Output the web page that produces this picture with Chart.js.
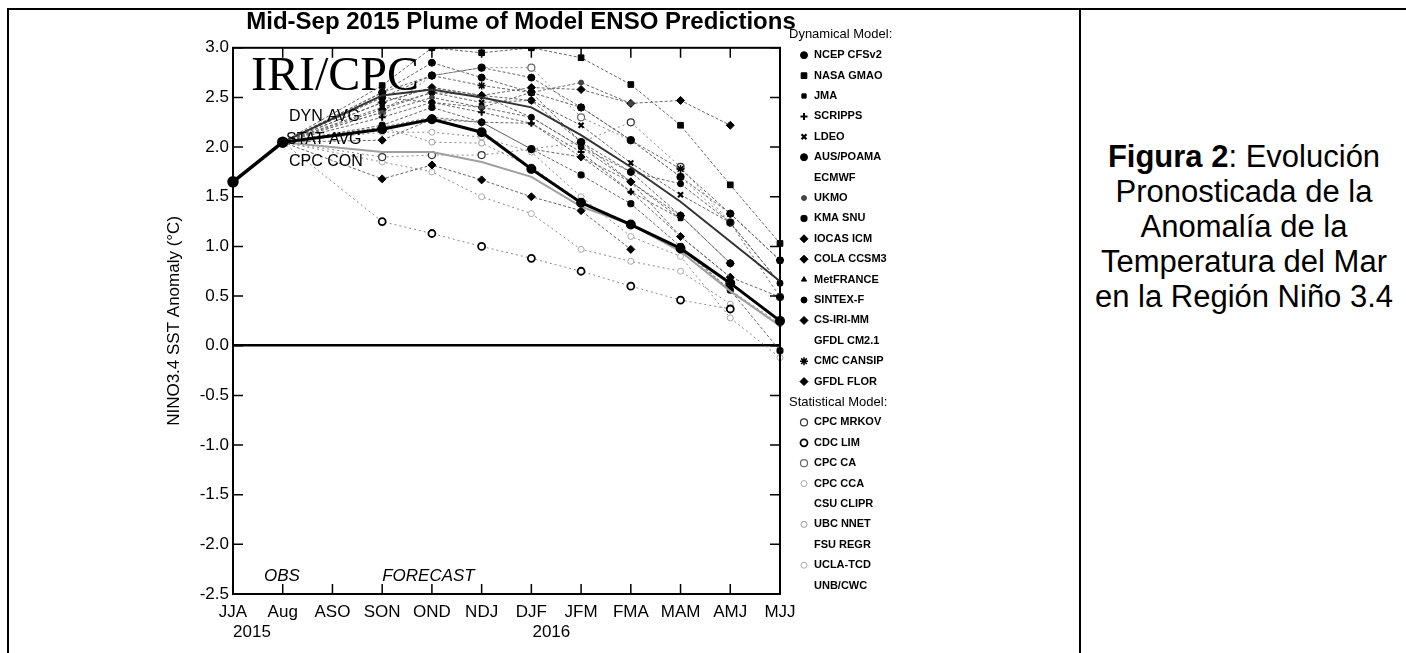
<!DOCTYPE html>
<html>
<head>
<meta charset="utf-8">
<script src="https://cdn.jsdelivr.net/npm/chart.js@4.4.1/dist/chart.umd.min.js"></script>
<style>
html,body{margin:0;padding:0;background:#fff;}
body{width:1406px;height:653px;position:relative;overflow:hidden;font-family:"Liberation Sans",Arial,sans-serif;color:#000;}
#wrap{position:absolute;left:0;top:0;width:1042px;height:653px;}
.fl{position:absolute;background:#000;}
#caption{position:absolute;left:1082px;top:139px;width:324px;text-align:center;font-size:31px;line-height:35px;}
</style>
</head>
<body>
<div class="fl" style="left:7px;top:8px;width:1399px;height:2px;"></div>
<div class="fl" style="left:7px;top:8px;width:2px;height:645px;"></div>
<div class="fl" style="left:1079px;top:8px;width:2px;height:645px;"></div>
<div id="wrap"><canvas id="c"></canvas></div>
<div id="caption"><b>Figura 2</b>: Evolución<br>Pronosticada de la<br>Anomalía de la<br>Temperatura del Mar<br>en la Región Niño 3.4</div>
<script>
// ---- categories / ticks ----
const seasons = ['JJA','Aug','ASO','SON','OND','NDJ','DJF','JFM','FMA','MAM','AMJ','MJJ'];
const yearLabels = ['2015','2016'];
const yTicks = [-2.5,-2.0,-1.5,-1.0,-0.5,0.0,0.5,1.0,1.5,2.0,2.5,3.0];

// ---- observations (JJA, Aug) ----
const obs = [1.65, 2.05];

// ---- forecasts SON..MJJ (9 seasons) ----
const ncepCfsv2 = [2.50, 2.72, 2.80, 2.70, 2.40, 2.07, 1.70, 1.33, 0.86];
const nasaGmao  = [2.62, 3.00, 2.95, 3.00, 2.90, 2.63, 2.22, 1.62, 1.03];
const jma       = [2.45, 2.60, 2.52, 2.30, 2.00, 1.65, 1.28, null, null];
const scripps   = [2.30, 2.45, 2.35, 2.24, 1.95, 1.55, 1.10, 0.69, null];
const ldeo      = [2.40, 2.55, 2.45, 2.47, 2.22, 1.84, 1.52, 1.24, 0.63];
const ausPoama  = [2.55, 2.85, 2.70, 2.55, 2.05, 1.75, 1.31, 0.83, null];
const ecmwf     = [];
const ukmo      = [2.35, 2.50, 2.40, 2.55, 2.65, 2.44, null, null, null];
const kmaSnu    = [2.22, 2.40, 2.25, 1.98, 1.72, 1.43, 1.00, 0.56, -0.05];
const iocasIcm  = [1.68, 1.82, 1.67, 1.50, 1.36, 0.97, null, null, null];
const colaCcsm3 = [2.38, 2.55, 2.52, 2.47, 2.05, 1.65, 1.31, 0.83, null];
const metFrance = [2.20, 2.30, 2.25, 2.24, 1.90, 1.55, 1.28, null, null];
const sintexF   = [2.50, 2.45, 2.40, 2.30, 2.00, 1.75, 1.63, 1.24, 0.63];
const csIriMm   = [2.07, 2.28, 2.25, 1.98, 1.90, 1.65, 1.10, 0.69, 0.49];
const gfdlCm21  = [];
const cmcCansip = [2.55, 2.72, 2.62, 2.55, 2.40, 2.07, 1.78, 1.33, 0.86];
const gfdlFlor  = [2.45, 2.60, 2.52, 2.60, 2.58, 2.44, 2.47, 2.22, null];

const cpcMrkov  = [1.90, 1.92, 1.92, 1.98, 2.05, 2.25, 1.80, 1.24, 0.49];
const cdcLim    = [1.25, 1.13, 1.00, 0.88, 0.75, 0.60, 0.46, 0.37, null];
const cpcCa     = [2.35, 2.72, 2.80, 2.80, 2.30, 2.07, 1.70, 1.24, 0.49];
const cpcCca    = [1.85, 1.75, 1.50, 1.33, 0.97, 0.85, 0.75, 0.42, null];
const csuClipr  = [];
const ubcNnet   = [2.20, 2.05, 2.04, 1.80, 1.45, 1.22, 0.98, 0.56, 0.22];
const fsuRegr   = [];
const uclaTcd   = [2.15, 2.15, 2.10, 1.95, 1.50, 1.10, 0.90, 0.28, -0.12];
const unbCwc    = [];

const dynAvg    = [2.52, 2.58, 2.50, 2.40, 2.12, 1.80, 1.45, 1.05, 0.65];
const statAvg   = [1.95, 1.95, 1.85, 1.70, 1.40, 1.22, 0.95, 0.55, 0.20];
const cpcCon    = [2.18, 2.28, 2.15, 1.78, 1.44, 1.22, 0.98, 0.63, 0.25];

// ---- model list (name, group, values) + marker styles ----
const models = [
  ['NCEP CFSv2','dyn',ncepCfsv2], ['NASA GMAO','dyn',nasaGmao], ['JMA','dyn',jma],
  ['SCRIPPS','dyn',scripps], ['LDEO','dyn',ldeo], ['AUS/POAMA','dyn',ausPoama],
  ['ECMWF','dyn',ecmwf], ['UKMO','dyn',ukmo], ['KMA SNU','dyn',kmaSnu],
  ['IOCAS ICM','dyn',iocasIcm], ['COLA CCSM3','dyn',colaCcsm3], ['MetFRANCE','dyn',metFrance],
  ['SINTEX-F','dyn',sintexF], ['CS-IRI-MM','dyn',csIriMm], ['GFDL CM2.1','dyn',gfdlCm21],
  ['CMC CANSIP','dyn',cmcCansip], ['GFDL FLOR','dyn',gfdlFlor],
  ['CPC MRKOV','stat',cpcMrkov], ['CDC LIM','stat',cdcLim], ['CPC CA','stat',cpcCa],
  ['CPC CCA','stat',cpcCca], ['CSU CLIPR','stat',csuClipr], ['UBC NNET','stat',ubcNnet],
  ['FSU REGR','stat',fsuRegr], ['UCLA-TCD','stat',uclaTcd], ['UNB/CWC','stat',unbCwc]
];
const styles = {
  'NCEP CFSv2':{ps:'circle',r:3.5}, 'NASA GMAO':{ps:'rect',r:4}, 'JMA':{ps:'rect',r:3},
  'SCRIPPS':{ps:'cross',r:3.5,bw:2}, 'LDEO':{ps:'crossRot',r:3.5,bw:2.2}, 'AUS/POAMA':{ps:'circle',r:3.5},
  'UKMO':{ps:'circle',r:2.5,c:'#444'}, 'KMA SNU':{ps:'rectRounded',r:3.5}, 'IOCAS ICM':{ps:'rectRot',r:4},
  'COLA CCSM3':{ps:'rectRot',r:4}, 'MetFRANCE':{ps:'triangle',r:3}, 'SINTEX-F':{ps:'circle',r:3},
  'CS-IRI-MM':{ps:'rectRot',r:4}, 'CMC CANSIP':{ps:'star',r:4,bw:1.5}, 'GFDL FLOR':{ps:'rectRot',r:4},
  'CPC MRKOV':{ps:'circle',r:3.5,open:true,c:'#333',bw:1.2}, 'CDC LIM':{ps:'circle',r:3.5,open:true,c:'#000',bw:1.8},
  'CPC CA':{ps:'circle',r:3.5,open:true,c:'#666',bw:1.2}, 'CPC CCA':{ps:'circle',r:3,open:true,c:'#aaa',bw:1},
  'UBC NNET':{ps:'circle',r:3,open:true,c:'#999',bw:1}, 'UCLA-TCD':{ps:'circle',r:3,open:true,c:'#aaa',bw:1}
};

function series(vals){ return [null, obs[1], null].concat(vals); }

const datasets = [];
models.forEach(([name, group, vals]) => {
  if (!vals.length) return;
  const s = styles[name];
  const col = s.c || '#000';
  datasets.push({
    label: name, group: group, data: series(vals), order: 5,
    spanGaps: true, borderColor: group === 'dyn' ? '#666' : '#888', borderWidth: 1,
    borderDash: group === 'dyn' ? [3,2] : [2,3],
    pointStyle: s.ps, pointRadius: c => c.dataIndex < 3 ? 0 : s.r,
    pointBackgroundColor: s.open ? '#fff' : col, pointBorderColor: col,
    pointBorderWidth: s.bw || 1, fill: false, tension: 0
  });
});
datasets.push({label:'STAT AVG', data: series(statAvg), order: 3, spanGaps:true, borderColor:'#a0a0a0', borderWidth:2, pointRadius:0, fill:false});
datasets.push({label:'DYN AVG', data: series(dynAvg), order: 2, spanGaps:true, borderColor:'#333', borderWidth:2, pointRadius:0, fill:false});
datasets.push({label:'CPC CON', data: series(cpcCon), order: 1, spanGaps:true, borderColor:'#000', borderWidth:3,
  pointRadius: c => c.dataIndex < 3 ? 0 : 3.5, pointBackgroundColor:'#000', pointBorderColor:'#000', fill:false});
datasets.push({label:'OBS', data: obs.slice(), order: 0, borderColor:'#000', borderWidth:3.5,
  pointRadius:4, pointBackgroundColor:'#000', pointBorderColor:'#000', fill:false});

const FONT = '"Liberation Sans", Arial, sans-serif';

const decor = {
  id: 'decor',
  afterDraw(chart) {
    const {ctx, chartArea: a, scales: {x, y}} = chart;
    ctx.save();
    // plot frame
    ctx.strokeStyle = '#000'; ctx.lineWidth = 2;
    ctx.strokeRect(a.left, a.top, a.right - a.left, a.bottom - a.top);
    // inward tick marks on all four sides
    ctx.lineWidth = 1.5; ctx.beginPath();
    x.ticks.forEach((t, i) => {
      const px = x.getPixelForTick(i);
      ctx.moveTo(px, a.bottom); ctx.lineTo(px, a.bottom - 10);
      ctx.moveTo(px, a.top); ctx.lineTo(px, a.top + 10);
    });
    y.ticks.forEach((t, i) => {
      const py = y.getPixelForTick(i);
      ctx.moveTo(a.left, py); ctx.lineTo(a.left + 10, py);
      ctx.moveTo(a.right, py); ctx.lineTo(a.right - 10, py);
    });
    ctx.stroke();
    // year labels
    ctx.fillStyle = '#000'; ctx.textAlign = 'center'; ctx.textBaseline = 'middle';
    ctx.font = '17px ' + FONT;
    ctx.fillText(yearLabels[0], x.getPixelForValue(0) + 19, a.bottom + 38);
    ctx.fillText(yearLabels[1], x.getPixelForValue(6) + 20, a.bottom + 38);
    // in-plot labels
    ctx.textAlign = 'left';
    ctx.font = '48px "Liberation Serif", "Times New Roman", serif';
    ctx.textBaseline = 'alphabetic';
    ctx.fillText('IRI/CPC', a.left + 18, a.top + 42);
    ctx.textBaseline = 'middle';
    ctx.font = '16px ' + FONT;
    ctx.fillText('DYN AVG', a.left + 56, a.top + 69);
    ctx.fillText('STAT AVG', a.left + 53, a.top + 92);
    ctx.fillText('CPC CON', a.left + 56, a.top + 114);
    ctx.font = 'italic 17px ' + FONT;
    ctx.fillText('OBS', a.left + 31, a.bottom - 18);
    ctx.fillText('FORECAST', x.getPixelForValue(3), a.bottom - 18);
    // legend
    const rows = [{h:'Dynamical Model:'}];
    models.filter(m => m[1] === 'dyn').forEach(m => rows.push({n:m[0]}));
    rows.push({h:'Statistical Model:'});
    models.filter(m => m[1] === 'stat').forEach(m => rows.push({n:m[0]}));
    const lx = a.right + 9, mx = a.right + 24, tx = a.right + 34;
    const y0 = a.top - 13, dy = 20.4;
    rows.forEach((r, i) => {
      const yy = y0 + i * dy;
      ctx.fillStyle = '#000';
      if (r.h) {
        ctx.font = '13px ' + FONT;
        ctx.fillText(r.h, lx, yy);
        return;
      }
      ctx.font = 'bold 11px ' + FONT;
      ctx.fillText(r.n, tx, yy);
      const ds = chart.data.datasets.find(d => d.label === r.n);
      if (ds) {
        const s = styles[r.n];
        ctx.fillStyle = ds.pointBackgroundColor; ctx.strokeStyle = ds.pointBorderColor;
        ctx.lineWidth = s.bw || 1; ctx.setLineDash([]);
        Chart.helpers.drawPoint(ctx, {pointStyle: s.ps, radius: s.r, borderWidth: s.bw || 1, rotation: 0}, mx, yy);
      }
    });
    ctx.restore();
  }
};

new Chart(document.getElementById('c'), {
  type: 'line',
  data: { labels: seasons, datasets: datasets },
  options: {
    responsive: true, maintainAspectRatio: false, animation: false,
    layout: { padding: { top: 8, left: 0, right: 0, bottom: 0 } },
    plugins: {
      legend: { display: false }, tooltip: { enabled: false },
      title: { display: true, text: 'Mid-Sep 2015 Plume of Model ENSO Predictions', color: '#000',
               font: { size: 24, weight: 'bold', family: FONT }, padding: { top: 0, bottom: 11 } }
    },
    scales: {
      x: {
        type: 'category', offset: false,
        grid: { display: false }, border: { display: false },
        ticks: { color: '#000', font: { size: 17, family: FONT }, padding: 0, autoSkip: false, maxRotation: 0 },
        afterFit(s) { s.height = 59; }
      },
      y: {
        min: -2.5, max: 3.0,
        afterBuildTicks(s) { s.ticks = yTicks.map(v => ({value: v})); },
        ticks: { color: '#000', font: { size: 17, family: FONT }, padding: 4, callback: v => v.toFixed(1) },
        grid: { drawTicks: false, color: c => c.tick && c.tick.value === 0 ? '#000' : 'rgba(0,0,0,0)',
                lineWidth: c => c.tick && c.tick.value === 0 ? 2.5 : 0 },
        border: { display: false },
        title: { display: true, text: 'NINO3.4 SST Anomaly (°C)', color: '#000',
                 font: { size: 17, family: FONT }, padding: { top: 164, bottom: 0 } },
        afterFit(s) { s.width = 233; }
      },
      yR: {
        position: 'right', display: true, min: 0, max: 1,
        grid: { display: false }, border: { display: false }, ticks: { display: false },
        afterFit(s) { s.width = 262; }
      }
    }
  },
  plugins: [decor]
});
</script>
</body>
</html>
